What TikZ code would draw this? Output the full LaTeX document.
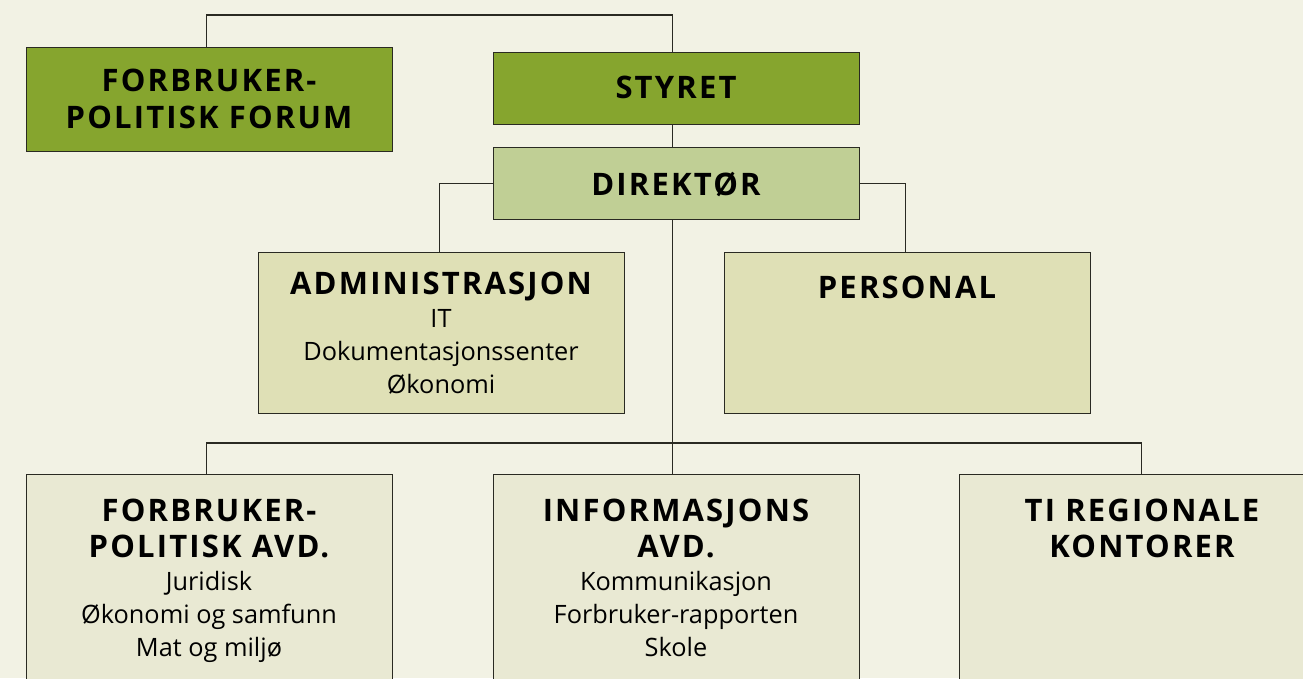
\documentclass[tikz,border=0pt]{standalone}
\usepackage{fontspec}
\setmainfont{Open Sans}
\newfontfamily\titlefont[LetterSpace=7]{Open Sans}
\usetikzlibrary{calc}
\definecolor{bgcol}{HTML}{F2F2E4}
\definecolor{darkgreen}{HTML}{86A52E}
\definecolor{midgreen}{HTML}{C0CF95}
\definecolor{lightgreen}{HTML}{DFE0B6}
\definecolor{palegreen}{HTML}{E9E9D3}
\definecolor{edge}{HTML}{2A2A22}
\tikzset{
  box/.style={draw=edge, line width=1.4pt, rectangle, inner sep=0pt, anchor=north west, minimum width=366pt},
  ttl/.style={anchor=base, inner sep=0pt, font=\titlefont\bfseries\fontsize{31}{38}\selectfont, text=black},
  bodytxt/.style={anchor=base, inner sep=0pt, font=\fontsize{25.3}{34}\selectfont, text=black},
  conn/.style={draw=edge, line width=1.4pt},
}
\begin{document}
\begin{tikzpicture}[x=1pt,y=-1pt]
\fill[bgcol] (0,0) rectangle (1303,678);
\useasboundingbox (0,0) rectangle (1303,678);
\clip (0,0) rectangle (1303,678);
% boxes
\node[box, fill=darkgreen, minimum height=104pt] (forum) at (26,47) {};
\node[box, fill=darkgreen, minimum height=72pt] (styret) at (493,52) {};
\node[box, fill=midgreen, minimum height=72pt] (dir) at (493,147) {};
\node[box, fill=lightgreen, minimum height=161pt] (adm) at (258,252) {};
\node[box, fill=lightgreen, minimum height=161pt] (pers) at (724,252) {};
\node[box, fill=palegreen, minimum height=240pt] (fpa) at (26,474) {};
\node[box, fill=palegreen, minimum height=240pt] (info) at (493,474) {};
\node[box, fill=palegreen, minimum height=240pt] (ti) at (959,474) {};
% connectors
\coordinate (topbar) at (0,15);
\coordinate (midbar) at (0,443);
\draw[conn] ($(forum.north)+(-3,0)$) |- (topbar -| {$(styret.north)+(-4,0)$}) -- ($(styret.north)+(-4,0)$);
\draw[conn] ($(styret.south)+(-4,0)$) -- ($(dir.north)+(-4,0)$);
\draw[conn] (dir.west) -| ($(adm.north)+(-2,0)$);
\draw[conn] (dir.east) -| ($(pers.north)+(-2,0)$);
\draw[conn] ($(dir.south)+(-4,0)$) -- (midbar -| {$(dir.south)+(-4,0)$});
\draw[conn] ($(fpa.north)+(-3,0)$) |- (midbar -| {$(ti.north)+(-1,0)$}) -- ($(ti.north)+(-1,0)$);
\draw[conn] ($(info.north)+(-4,0)$) -- (midbar -| {$(info.north)+(-4,0)$});
% texts
\node[ttl] (t1) at (209,91) {FORBRUKER-};
\node[ttl] (t2) at (209,128) {POLITISK FORUM};
\node[ttl] (t3) at (676,98) {STYRET};
\node[ttl] (t4) at (676,195) {DIREKTØR};
\node[ttl] (t5) at (441,294) {ADMINISTRASJON};
\node[bodytxt] (b1) at (441,327) {IT};
\node[bodytxt] (b2) at (441,360) {Dokumentasjonssenter};
\node[bodytxt] (b3) at (441,393) {Økonomi};
\node[ttl] (t6) at (907,298) {PERSONAL};
\node[ttl] (t7) at (209,521) {FORBRUKER-};
\node[ttl] (t8) at (209,557) {POLITISK AVD.};
\node[bodytxt] (b4) at (209,590) {Juridisk};
\node[bodytxt] (b5) at (209,623) {Økonomi og samfunn};
\node[bodytxt] (b6) at (209,656) {Mat og miljø};
\node[ttl] (t9) at (676,521) {INFORMASJONS};
\node[ttl] (t10) at (676,557) {AVD.};
\node[bodytxt] (b7) at (676,590) {Kommunikasjon};
\node[bodytxt] (b8) at (676,623) {Forbruker-rapporten};
\node[bodytxt] (b9) at (676,656) {Skole};
\node[ttl] (t11) at (1142,521) {TI REGIONALE};
\node[ttl] (t12) at (1142,557) {KONTORER};
\end{tikzpicture}
\end{document}
